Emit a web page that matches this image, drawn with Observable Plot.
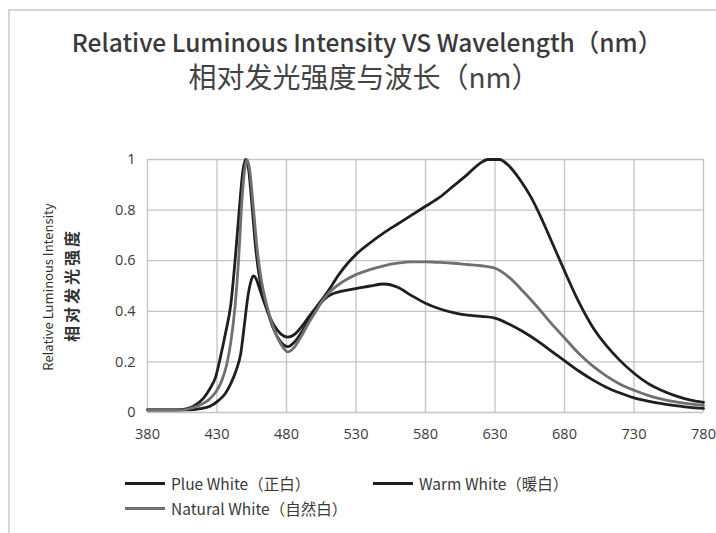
<!DOCTYPE html>
<html>
<head>
<meta charset="utf-8">
<script src="https://cdn.jsdelivr.net/npm/d3@7"></script>
<script src="https://cdn.jsdelivr.net/npm/@observablehq/plot@0.6"></script>
<style>
  html, body { margin: 0; padding: 0; background: #fff; }
  #page { position: relative; width: 716px; height: 533px; overflow: hidden; background: #fff;
          font-family: "Noto Sans CJK SC", "Noto Sans", sans-serif; color: #3a3a3a; }
  #edge { position: absolute; left: 8px; top: 9px; right: 0; bottom: 0;
          border-left: 2px solid #d6d6d6; border-top: 2px solid #d6d6d6; }
  .title { position: absolute; left: 0; width: 716px; text-align: center; line-height: 1; white-space: nowrap; font-weight: 500; }
  .ylab { position: absolute; white-space: nowrap; transform: translate(-50%, -50%) rotate(-90deg); color: #333; }
  #chart { position: absolute; left: 0; top: 140px; }
  .leg { position: absolute; font-size: 15.5px; color: #3a3a3a; white-space: nowrap; display: flex; align-items: center; }
  .sw { display: inline-block; width: 40px; height: 0; border-top: 3px solid #222; margin-right: 6px; }
</style>
</head>
<body>
<div id="page">
  <div id="edge"></div>
  <div class="title" id="t1" style="top:30px; left:9px; font-size:24.5px;"></div>
  <div class="title" id="t2" style="top:62px; left:6px; font-size:28px; font-weight:400; color:#444;"></div>
  <div class="ylab" id="yl1" style="left:47px; top:287px; font-size:13px;"></div>
  <div class="ylab" id="yl2" style="left:71px; top:285px; font-size:16px; letter-spacing:3px; font-weight:700;"></div>
  <div id="chart"></div>
  <div id="legend"></div>
</div>
<script>
// ---- Titles & labels
const titleLine1 = "Relative Luminous Intensity VS Wavelength（nm）";
const titleLine2 = "相对发光强度与波长（nm）";
const yLabelLine1 = "Relative Luminous Intensity";
const yLabelLine2 = "相对发光强度";

// ---- Axis ticks
const xTicks = [380, 430, 480, 530, 580, 630, 680, 730, 780];
const yTicks = [0, 0.2, 0.4, 0.6, 0.8, 1];

// ---- Series names
const seriesNames = ["Plue White（正白）", "Warm White（暖白）", "Natural White（自然白）"];
const seriesColors = ["#1f1f1f", "#1f1f1f", "#707070"];

// ---- Plue White (正白)
const plueNm = [380, 400, 408, 414, 420, 425, 429, 432.5, 436, 440, 443, 446, 448.5, 450.5, 452.5, 455, 458, 461, 465, 470, 475, 481, 486, 490, 495, 500, 505, 510, 520, 530, 540, 550, 560, 570, 580, 590, 600, 610, 620, 630, 640, 650, 660, 670, 680, 690, 700, 710, 720, 730, 740, 750, 760, 770, 780];
const plueVal = [0.01, 0.01, 0.014, 0.028, 0.055, 0.095, 0.14, 0.22, 0.31, 0.43, 0.6, 0.8, 0.95, 1.0, 0.97, 0.83, 0.64, 0.52, 0.43, 0.34, 0.285, 0.26, 0.28, 0.31, 0.355, 0.395, 0.435, 0.46, 0.48, 0.49, 0.5, 0.508, 0.495, 0.462, 0.432, 0.41, 0.395, 0.385, 0.38, 0.373, 0.35, 0.32, 0.285, 0.245, 0.205, 0.165, 0.13, 0.1, 0.077, 0.058, 0.045, 0.035, 0.027, 0.02, 0.016];

// ---- Warm White (暖白)
const warmNm = [380, 410, 418, 425, 431, 436, 440, 444, 447, 450, 452, 454, 456, 458, 460, 463, 467, 471, 476, 481, 486, 491, 497, 504, 510, 517, 524, 531, 540, 550, 560, 570, 580, 590, 600, 610, 618, 625, 633, 640, 648, 656, 664, 672, 680, 690, 700, 710, 720, 730, 740, 750, 760, 770, 780];
const warmVal = [0.01, 0.01, 0.015, 0.025, 0.047, 0.075, 0.115, 0.17, 0.23, 0.36, 0.45, 0.51, 0.54, 0.53, 0.5, 0.45, 0.39, 0.345, 0.31, 0.298, 0.31, 0.34, 0.385, 0.435, 0.48, 0.54, 0.59, 0.63, 0.67, 0.71, 0.745, 0.78, 0.815, 0.85, 0.895, 0.94, 0.98, 1.0, 1.0, 0.975, 0.92, 0.85, 0.76, 0.66, 0.56, 0.44, 0.34, 0.265, 0.205, 0.155, 0.115, 0.087, 0.066, 0.05, 0.04];

// ---- Natural White (自然白)
const naturalNm = [380, 405, 412, 418, 424, 429, 433, 437, 440, 443, 445.5, 447.5, 449.5, 451.5, 453.5, 456, 459, 462, 466, 471, 476, 481, 486, 490, 495, 500, 505, 510, 520, 530, 540, 550, 560, 570, 580, 590, 600, 610, 620, 630, 640, 650, 660, 670, 680, 690, 700, 710, 720, 730, 740, 750, 760, 770, 780];
const naturalVal = [0.01, 0.01, 0.018, 0.03, 0.05, 0.08, 0.12, 0.19, 0.28, 0.42, 0.6, 0.8, 0.94, 1.0, 0.96, 0.82, 0.64, 0.52, 0.42, 0.33, 0.27, 0.24, 0.26, 0.295, 0.345, 0.39, 0.435, 0.47, 0.515, 0.545, 0.565, 0.58, 0.59, 0.595, 0.595, 0.593, 0.59, 0.585, 0.58, 0.57, 0.535, 0.48, 0.42, 0.355, 0.295, 0.235, 0.185, 0.145, 0.112, 0.088, 0.068, 0.053, 0.042, 0.034, 0.028];

// ---- Build table
const rows = [];
[[plueNm, plueVal], [warmNm, warmVal], [naturalNm, naturalVal]].forEach(([nm, val], i) => {
  nm.forEach((w, j) => rows.push({ series: seriesNames[i], nm: w, v: val[j] }));
});

document.getElementById("t1").textContent = titleLine1;
document.getElementById("t2").textContent = titleLine2;
document.getElementById("yl1").textContent = yLabelLine1;
document.getElementById("yl2").textContent = yLabelLine2;

const chart = Plot.plot({
  width: 716,
  height: 310,
  marginLeft: 147,
  marginRight: 13,
  marginTop: 19,
  marginBottom: 38,
  style: { fontFamily: "'Open Sans', 'Noto Sans', sans-serif", fontSize: "14.5px", color: "#3c3c3c", background: "transparent" },
  x: { domain: [380, 780], label: null },
  y: { domain: [0, 1], label: null },
  color: { domain: seriesNames, range: seriesColors },
  marks: [
    Plot.gridX(xTicks, { stroke: "#c4c4c4", strokeOpacity: 1, strokeWidth: 1.3 }),
    Plot.gridY(yTicks, { stroke: "#c4c4c4", strokeOpacity: 1, strokeWidth: 1.3 }),
    Plot.axisX(xTicks, { tickSize: 0, tickPadding: 16, tickFormat: d => String(d), label: null }),
    Plot.axisY(yTicks, { tickSize: 0, tickPadding: 12, tickFormat: d => String(d), label: null }),
    Plot.line(rows, { x: "nm", y: "v", z: "series", stroke: "series", strokeWidth: 2.8, curve: "monotone-x" })
  ]
});
document.getElementById("chart").appendChild(chart);

// ---- Legend (HTML)
const legendPos = [[125, 483], [373, 483], [125, 508]];
const legend = document.getElementById("legend");
seriesNames.forEach((name, i) => {
  const d = document.createElement("div");
  d.className = "leg";
  d.style.left = legendPos[i][0] + "px";
  d.style.top = (legendPos[i][1] - 11) + "px";
  const sw = document.createElement("span");
  sw.className = "sw";
  sw.style.borderTopColor = seriesColors[i];
  const tx = document.createElement("span");
  tx.textContent = name;
  d.appendChild(sw); d.appendChild(tx);
  legend.appendChild(d);
});
</script>
</body>
</html>
